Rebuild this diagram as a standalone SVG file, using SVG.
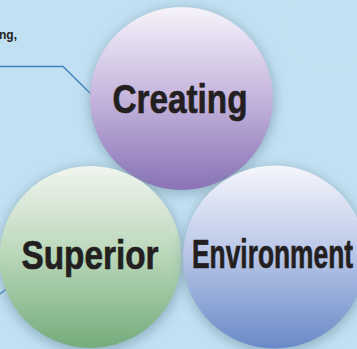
<svg xmlns="http://www.w3.org/2000/svg" width="357" height="349" viewBox="0 0 357 349">
  <style>
    .lbl { font-family: "Liberation Sans Narrow", "Liberation Sans", Arial, sans-serif; font-weight: bold; font-size: 41px; fill: #231f20; stroke: #231f20; stroke-width: 0.7; }
    .small { font-family: "Liberation Sans", Arial, sans-serif; font-weight: bold; font-size: 12px; fill: #231f20; }
    .conn { fill: none; stroke: #3f7fc4; stroke-width: 1.3; }
    .shadow { fill: #6f8fa0; opacity: 0.55; filter: url(#blur); }
  </style>
  <defs>
    <filter id="blur" x="-30%" y="-30%" width="160%" height="160%">
      <feGaussianBlur stdDeviation="6"/>
    </filter>
    <linearGradient id="gPurple" x1="0" y1="0" x2="0" y2="1">
      <stop offset="0" stop-color="#f6f3fa"/>
      <stop offset="0.5" stop-color="#c4b4dc"/>
      <stop offset="1" stop-color="#8a72b6"/>
    </linearGradient>
    <linearGradient id="gGreen" x1="0" y1="0" x2="0" y2="1">
      <stop offset="0" stop-color="#f0f5ee"/>
      <stop offset="0.5" stop-color="#b8d6b8"/>
      <stop offset="1" stop-color="#74ac7c"/>
    </linearGradient>
    <linearGradient id="gBlue" x1="0" y1="0" x2="0" y2="1">
      <stop offset="0" stop-color="#f6f6fc"/>
      <stop offset="0.5" stop-color="#b6c4e6"/>
      <stop offset="1" stop-color="#6a8ac8"/>
    </linearGradient>
  </defs>
  <rect x="0" y="0" width="357" height="349" fill="#c1e0f1"/>
  <circle cx="330" cy="25" r="45" fill="none" stroke="#c8e4f3" stroke-width="2" opacity="0.35"/>

  <text class="small" x="-1" y="39">ng,</text>

  <g id="connectors">
    <polyline class="conn" points="0,66.5 63,66.5 91,94"/>
    <line class="conn" x1="0" y1="294" x2="6" y2="289"/>
  </g>

  <g id="creating">
    <circle class="shadow" cx="182" cy="101" r="93"/>
    <circle cx="181.5" cy="98.5" r="91.5" fill="url(#gPurple)"/>
    <text class="lbl" x="180" y="113" text-anchor="middle" textLength="135" lengthAdjust="spacingAndGlyphs">Creating</text>
  </g>

  <g id="superior">
    <circle class="shadow" cx="91" cy="260" r="93"/>
    <circle cx="90.5" cy="257" r="91" fill="url(#gGreen)"/>
    <text class="lbl" x="90" y="269" text-anchor="middle" textLength="137" lengthAdjust="spacingAndGlyphs">Superior</text>
  </g>

  <g id="environment">
    <circle class="shadow" cx="275" cy="260" r="93"/>
    <circle cx="274.5" cy="257" r="91.5" fill="url(#gBlue)"/>
    <text class="lbl" x="272.5" y="268" text-anchor="middle" textLength="161" lengthAdjust="spacingAndGlyphs">Environment</text>
  </g>
</svg>
